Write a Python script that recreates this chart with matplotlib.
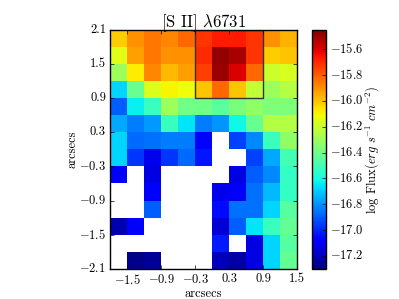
import numpy as np
import matplotlib
matplotlib.use("Agg")
import matplotlib.pyplot as plt
from matplotlib.patches import Rectangle

plt.style.use('classic')
plt.rcParams['font.family'] = 'serif'
plt.rcParams['font.serif'] = ['cmr10', 'DejaVu Serif']
plt.rcParams['mathtext.fontset'] = 'cm'
plt.rcParams['axes.formatter.use_mathtext'] = True
plt.rcParams['figure.facecolor'] = 'white'
plt.rcParams['savefig.facecolor'] = 'white'

N = np.nan
# rows from top (y=2.1) to bottom (y=-2.1); columns from x=-1.8 to x=1.5
flux_rows = [
    [-16.02, -15.90, -15.85, -15.88, -15.82, -15.72, -15.67, -15.67, -15.72, -15.90, -15.97],
    [-16.15, -15.93, -15.85, -15.90, -15.90, -15.70, -15.48, -15.52, -15.72, -16.02, -16.00],
    [-16.30, -16.08, -15.88, -15.98, -15.93, -15.74, -15.50, -15.60, -15.82, -16.20, -16.17],
    [-16.68, -16.42, -16.16, -16.10, -16.12, -16.00, -15.82, -16.00, -16.22, -16.30, -16.25],
    [-16.90, -16.63, -16.52, -16.30, -16.40, -16.40, -16.45, -16.38, -16.33, -16.37, -16.37],
    [-16.76, -16.84, -16.79, -16.52, -16.65, -16.84, -16.80, -16.62, -16.42, -16.25, -16.25],
    [-16.68, -16.88, -16.86, -16.84, -16.84, -17.08, N, -16.95, -16.82, -16.52, -16.33],
    [-16.68, -16.97, -17.12, -16.97, -16.88, -17.03, N, N, -16.95, -16.76, -16.50],
    [-17.07, N, -17.14, N, N, N, N, -17.14, -16.90, -16.82, -16.54],
    [N, N, -17.08, N, N, N, -17.12, -17.10, -16.86, -16.73, -16.54],
    [N, N, -16.90, N, N, N, -17.05, -16.86, -16.86, -16.68, -16.46],
    [-17.22, -17.08, N, N, N, N, -17.16, -16.90, -16.65, -16.52, -16.43],
    [N, N, N, N, N, N, -17.02, N, -17.14, -16.68, -16.46],
    [N, -17.28, -17.26, N, N, N, -17.20, -17.24, -17.14, -16.68, -16.43],
]
x_edges = [-1.8, -1.5, -1.2, -0.9, -0.6, -0.3, 0.0, 0.3, 0.6, 0.9, 1.2, 1.5]
y_edges = [2.1, 1.8, 1.5, 1.2, 0.9, 0.6, 0.3, 0.0, -0.3, -0.6, -0.9, -1.2, -1.5, -1.8, -2.1]
x_ticks = [-1.5, -0.9, -0.3, 0.3, 0.9, 1.5]
y_ticks = [-2.1, -1.5, -0.9, -0.3, 0.3, 0.9, 1.5, 2.1]
cb_ticks = [-17.2, -17.0, -16.8, -16.6, -16.4, -16.2, -16.0, -15.8, -15.6]
vmin, vmax = -17.3, -15.45
box_x = [-0.3, 0.9]
box_y = [0.9, 2.1]

data = np.ma.masked_invalid(np.array(flux_rows))

fig = plt.figure(figsize=(3.99, 2.99), dpi=100)
ax = fig.add_axes([0.276, 0.101, 0.469, 0.799])
cax = fig.add_axes([0.782, 0.101, 0.034, 0.799])

mesh = ax.pcolormesh(x_edges, y_edges, data, cmap='jet', vmin=vmin, vmax=vmax)
ax.add_patch(Rectangle((box_x[0], box_y[0]), box_x[1] - box_x[0], box_y[1] - box_y[0],
                       fill=False, edgecolor='#333333', lw=1.0))
ax.set_xlim(-1.8, 1.5)
ax.set_ylim(-2.1, 2.1)
ax.set_xticks(x_ticks)
ax.set_yticks(y_ticks)
ax.set_xticklabels(['%.1f' % v if v >= 0 else '$-$%.1f' % -v for v in x_ticks])
ax.set_yticklabels(['%.1f' % v if v >= 0 else '$-$%.1f' % -v for v in y_ticks])
ax.tick_params(labelsize=9, length=3, pad=3)
ax.set_xlabel('arcsecs', fontsize=9, labelpad=1)
ax.set_ylabel('arcsecs', fontsize=9, labelpad=0)
ax.set_title(r'[S II] $\lambda$6731', fontsize=12, pad=2)

cb = fig.colorbar(mesh, cax=cax, ticks=cb_ticks)
cb.ax.set_yticklabels(['$-$%.1f' % -v for v in cb_ticks])
cb.ax.tick_params(labelsize=9, length=3, pad=3)
cb.set_label(r'log Flux$(erg\ s^{-1}\ cm^{-2})$', fontsize=9, labelpad=0)
cb.outline.set_linewidth(1.0)

fig.savefig('out.png', dpi=100)
